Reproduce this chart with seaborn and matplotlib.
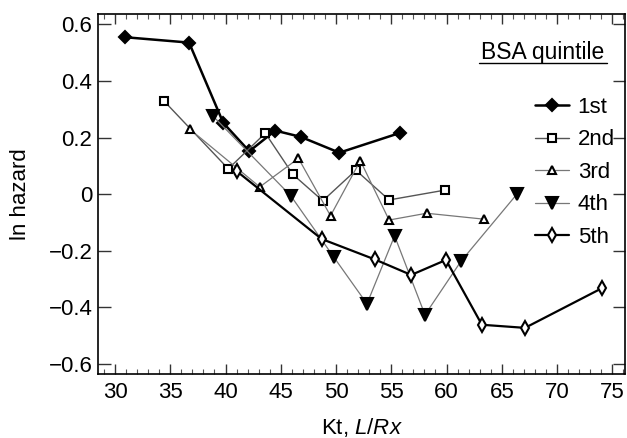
import numpy as np
import pandas as pd
import seaborn as sns
import matplotlib.pyplot as plt
from matplotlib.ticker import MultipleLocator, FixedLocator, FixedFormatter

sns.set_style('ticks')
plt.rcParams['font.family'] = ['Liberation Sans', 'DejaVu Sans']
plt.rcParams['mathtext.fontset'] = 'custom'
plt.rcParams['mathtext.rm'] = 'Liberation Sans'
plt.rcParams['mathtext.it'] = 'Liberation Sans:italic'
plt.rcParams['text.color'] = 'black'
plt.rcParams['axes.labelcolor'] = 'black'
plt.rcParams['xtick.labelcolor'] = 'black'
plt.rcParams['ytick.labelcolor'] = 'black'

# data
kt_1st = [30.9, 36.7, 39.8, 42.15, 44.5, 46.8, 50.3, 55.8]
hz_1st = [0.555, 0.536, 0.252, 0.152, 0.225, 0.203, 0.147, 0.217]

kt_2nd = [34.4, 40.25, 43.6, 46.1, 48.8, 51.8, 54.8, 59.9]
hz_2nd = [0.331, 0.090, 0.216, 0.070, -0.023, 0.085, -0.020, 0.015]

kt_3rd = [36.8, 43.1, 46.6, 49.5, 52.2, 54.8, 58.2, 63.4]
hz_3rd = [0.229, 0.026, 0.127, -0.076, 0.119, -0.091, -0.067, -0.088]

kt_4th = [38.9, 45.9, 49.8, 52.8, 55.3, 58.05, 61.3, 66.4]
hz_4th = [0.275, -0.005, -0.222, -0.387, -0.147, -0.426, -0.237, 0.002]

kt_5th = [41.0, 48.7, 53.5, 56.8, 59.95, 63.2, 67.1, 74.1]
hz_5th = [0.082, -0.158, -0.230, -0.285, -0.232, -0.461, -0.472, -0.331]

quintiles = ['1st', '2nd', '3rd', '4th', '5th']
y_ticks = [-0.6, -0.4, -0.2, 0, 0.2, 0.4, 0.6]
y_ticklabels = ['\u22120.6', '\u22120.4', '\u22120.2', '0', '0.2', '0.4', '0.6']
x_ticks = [30, 35, 40, 45, 50, 55, 60, 65, 70, 75]

series = {
    '1st': (kt_1st, hz_1st),
    '2nd': (kt_2nd, hz_2nd),
    '3rd': (kt_3rd, hz_3rd),
    '4th': (kt_4th, hz_4th),
    '5th': (kt_5th, hz_5th),
}

# per-series look: marker, size, line colour, line width, marker face
styles = {
    '1st': dict(marker='D', ms=6, color='black', lw=1.8, mfc='black'),
    '2nd': dict(marker='s', ms=6, color='#555555', lw=1.0, mfc='white'),
    '3rd': dict(marker='^', ms=6, color='#777777', lw=0.9, mfc='white'),
    '4th': dict(marker='v', ms=8, color='#777777', lw=0.9, mfc='black'),
    '5th': dict(marker='d', ms=7, color='black', lw=1.6, mfc='white'),
}

fs = 16

fig = plt.figure(figsize=(6.27, 4.38), dpi=100)
ax = fig.add_axes([98 / 627, 1 - 374 / 438, 527 / 627, 360 / 438])

for q in quintiles:
    kt, hz = series[q]
    st = styles[q]
    sns.lineplot(x=kt, y=hz, ax=ax, sort=False, label=q,
                 color=st['color'], linewidth=st['lw'],
                 marker=st['marker'], markersize=st['ms'],
                 markerfacecolor=st['mfc'], markeredgecolor='black',
                 markeredgewidth=1.5)

ax.set_xlim(28.46, 76.15)
ax.set_ylim(-0.635, 0.637)
ax.xaxis.set_major_locator(FixedLocator(x_ticks))
ax.xaxis.set_minor_locator(MultipleLocator(1))
ax.yaxis.set_major_locator(FixedLocator(y_ticks))
ax.yaxis.set_major_formatter(FixedFormatter(y_ticklabels))

ax.tick_params(axis='both', which='major', direction='in', labelsize=fs,
               top=True, right=True, width=1.0, color='#333333')
ax.tick_params(axis='x', which='major', length=7, pad=6)
ax.tick_params(axis='y', which='major', length=9, pad=4)
ax.tick_params(axis='x', which='minor', direction='in', length=3.5,
               top=True, width=0.8, color='#555555')
for s in ax.spines.values():
    s.set_linewidth(1.2)
    s.set_color('black')

ax.set_xlabel(r'Kt, $\mathit{L/Rx}$', fontsize=fs, labelpad=9)
ax.set_ylabel('ln hazard', fontsize=fs, labelpad=13)

leg = ax.legend(loc='upper left', bbox_to_anchor=(0.83, 0.77),
                frameon=False, fontsize=fs, handlelength=1.5,
                handletextpad=0.4, labelspacing=0.52, borderpad=0,
                borderaxespad=0)

# legend title, underlined
ax.text(0.844, 0.892, 'BSA quintile', transform=ax.transAxes,
        ha='center', va='center', fontsize=16.5)
ax.plot([0.723, 0.966], [0.864, 0.864], transform=ax.transAxes,
        color='black', lw=1.0, clip_on=False)

fig.savefig('out.png', dpi=100)
